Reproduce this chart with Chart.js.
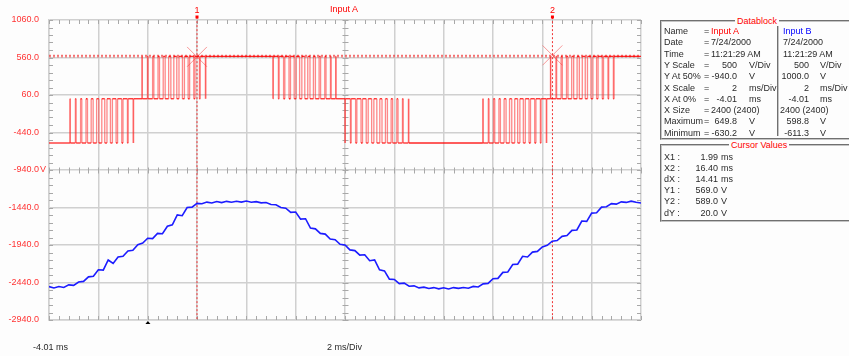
<!DOCTYPE html>
<html>
<head>
<meta charset="utf-8">
<script src="https://cdn.jsdelivr.net/npm/chart.js@4.4.0/dist/chart.umd.min.js"></script>
<style>
  body { margin: 0; background: #fff; }
  #wrap { position: relative; width: 849px; height: 356px; overflow: hidden; background: #fdfdfd;
          font-family: "Liberation Sans", Arial, sans-serif; font-size: 9px; color: #2a2a2a; }
  #scope { position: absolute; left: 0; top: 0; }
  .t { position: absolute; white-space: nowrap; line-height: 10px; }
  .box { position: absolute; border: 2px groove #c4c4c4; }
  .cap { position: absolute; background: #fdfdfd; color: #f00; padding: 0 2px; line-height: 10px; white-space: nowrap; }
</style>
</head>
<body>
<div id="wrap">
  <canvas id="scope" width="849" height="356"></canvas>
  <span class="t" style="left:330px; top:4px; color:#f00;">Input A</span>
  <span class="t" style="left:33px; top:342px;">-4.01 ms</span>
  <span class="t" style="left:327px; top:342px;">2 ms/Div</span>
  <div class="box" style="left:660px; top:20px; width:220px; height:116px;"></div>
  <div class="box" style="left:777px; top:20px; width:0; height:116px; border-width:0 0 0 2px;"></div>
  <span class="cap" style="left:735px; top:16px;">Datablock</span>
  <div class="box" style="left:660px; top:144px; width:220px; height:74px;"></div>
  <span class="cap" style="left:729px; top:140px;">Cursor Values</span>
</div>
<script>
// screen divisions: 2 ms/Div, 500 V/Div
var xTicks = [-4.01, -2.01, -0.01, 1.99, 3.99, 5.99, 7.99, 9.99, 11.99, 13.99, 15.99, 17.99, 19.99];
var yTicks = [1060, 560, 60, -440, -940, -1440, -1940, -2440, -2940];
var yLabels = ['1060.0', '560.0', '60.0', '-440.0', '-940.0', '-1440.0', '-1940.0', '-2440.0', '-2940.0'];

// Input A: three level output (V), times (ms) where it switches
var HI = 575, MID = 10, LO = -580;
var pwm1 = [-3.16, -3.15, -2.94, -2.91, -2.73, -2.68, -2.51, -2.45, -2.30, -2.22, -2.08, -1.99, -1.87, -1.75, -1.66, -1.52, -1.44, -1.29, -1.23, -1.06, -1.01, -0.83, -0.80, -0.60, -0.58];
var pwm2 = [-0.24, -0.23, -0.02, 0.01, 0.19, 0.24, 0.41, 0.47, 0.62, 0.70, 0.84, 0.93, 1.05, 1.17, 1.26, 1.40, 1.48, 1.63, 1.69, 1.86, 1.91, 2.09, 2.12, 2.33, 2.35];
var pwm3 = [5.07, 5.08, 5.29, 5.32, 5.50, 5.55, 5.72, 5.78, 5.93, 6.01, 6.15, 6.24, 6.36, 6.48, 6.57, 6.71, 6.79, 6.94, 7.00, 7.17, 7.22, 7.40, 7.43, 7.61, 7.63];
var pwm4 = [7.99, 8.00, 8.21, 8.24, 8.42, 8.47, 8.64, 8.70, 8.85, 8.93, 9.07, 9.16, 9.28, 9.40, 9.49, 9.63, 9.71, 9.86, 9.92, 10.09, 10.14, 10.32, 10.35, 10.56, 10.58];
var pwm5 = [13.58, 13.59, 13.80, 13.83, 14.01, 14.06, 14.23, 14.29, 14.44, 14.52, 14.66, 14.75, 14.87, 14.99, 15.08, 15.22, 15.30, 15.45, 15.51, 15.68, 15.73, 15.91, 15.94, 16.15, 16.17];
var pwm6 = [16.32, 16.33, 16.54, 16.57, 16.75, 16.80, 16.97, 17.03, 17.18, 17.26, 17.40, 17.49, 17.61, 17.73, 17.82, 17.96, 18.04, 18.19, 18.25, 18.42, 18.47, 18.65, 18.68, 18.87, 18.90];

// Input B (V), one reading every 0.2 ms from -4.01 ms
var inputB = [
  -555, -572, -553, -566, -532, -538, -494, -485, -425, -418,
  -330, -335, -200, -245, -160, -150, -80, -70, 5, 25,
  90, 85, 155, 150, 250, 270, 400, 390, 500, 505,
  555, 550, 572, 560, 580, 565, 582, 570, 583, 572,
  586, 570, 578, 562, 566, 540, 536, 500, 490, 435,
  440, 345, 350, 225, 215, 155, 145, 80, 70, 10,
  0, -65, -75, -135, -130, -210, -200, -330, -345, -455,
  -460, -515, -508, -550, -545, -572, -562, -580, -568, -585,
  -570, -586, -568, -578, -566, -576, -552, -560, -518, -512,
  -450, -445, -365, -360, -260, -255, -150, -160, -95, -85,
  -25, -5, 50, 60, 115, 125, 195, 200, 320, 315,
  425, 430, 505, 510, 552, 545, 575, 568, 585, 570, 560
];
var bStart = -4.01, bStep = 0.2;

// cursors
var cursorX = [1.99, 16.40];
var cursorY = [569.0, 589.0];
var trigger = 0;

var blockRows = [
  ['Name', 'Input A', null, 'Input B', null],
  ['Date', '7/24/2000', null, '7/24/2000', null],
  ['Time', '11:21:29 AM', null, '11:21:29 AM', null],
  ['Y Scale', '500', 'V/Div', '500', 'V/Div'],
  ['Y At 50%', '-940.0', 'V', '1000.0', 'V'],
  ['X Scale', '2', 'ms/Div', '2', 'ms/Div'],
  ['X At 0%', '-4.01', 'ms', '-4.01', 'ms'],
  ['X Size', '2400 (2400)', null, '2400 (2400)', null],
  ['Maximum', '649.8', 'V', '598.8', 'V'],
  ['Minimum', '-630.2', 'V', '-611.3', 'V']
];
var cursorRows = [['X1', '1.99', 'ms'], ['X2', '16.40', 'ms'], ['dX', '14.41', 'ms'],
                  ['Y1', '569.0', 'V'], ['Y2', '589.0', 'V'], ['dY', '20.0', 'V']];

// text panel on the right
var wrap = document.getElementById('wrap');
function put(txt, x, y, color, right) {
  var s = document.createElement('span');
  s.className = 't';
  s.textContent = txt;
  s.style.top = (y - 5) + 'px';
  if (right) s.style.right = (849 - x) + 'px'; else s.style.left = x + 'px';
  if (color) s.style.color = color;
  wrap.appendChild(s);
}
blockRows.forEach(function(r, i) {
  var y = 31 + i * 11.3;
  put(r[0], 664, y);
  put('=', 704, y);
  if (r[2] === null) {
    put(r[1], 711, y, i == 0 ? '#f00' : null);
    put(r[3], i == 7 ? 780 : 783, y, i == 0 ? '#00f' : null);
  } else {
    put(r[1], 737, y, null, true);
    put(r[2], 749, y);
    put(r[3], 809, y, null, true);
    put(r[4], 820, y);
  }
});
cursorRows.forEach(function(r, i) {
  var y = 157 + i * 11.1;
  put(r[0] + ' :', 664, y);
  put(r[1], 718, y, null, true);
  put(r[2], 721, y);
});

// build traces
var redPts = [{x: -4.01, y: LO}];
var lvl = LO;
[[pwm1, LO, MID], [pwm2, MID, HI], [pwm3, HI, MID], [pwm4, MID, LO], [pwm5, LO, MID], [pwm6, MID, HI]].forEach(function(r) {
  r[0].forEach(function(t) {
    redPts.push({x: t, y: lvl});
    lvl = (lvl == r[1]) ? r[2] : r[1];
    redPts.push({x: t, y: lvl});
  });
});
redPts.push({x: 19.99, y: lvl});

var bluePts = inputB.map(function(v, i) { return {x: bStart + i * bStep, y: v}; });

var gridColor = '#d0d0d0';
var scopeMarks = {
  id: 'scopeMarks',
  beforeDatasetsDraw: function(chart) {
    var ctx = chart.ctx, a = chart.chartArea, x = chart.scales.x, y = chart.scales.y;
    var xc = Math.round(x.getPixelForValue(7.99)) + 0.5, yc = Math.round(y.getPixelForValue(-940)) + 0.5;
    ctx.save();
    ctx.strokeStyle = '#a8a8a8';
    ctx.lineWidth = 1;
    ctx.beginPath();
    for (var t = -4.01; t <= 19.995; t += 0.4) {
      var px = Math.round(x.getPixelForValue(t)) + 0.5;
      ctx.moveTo(px, a.top); ctx.lineTo(px, a.top + 4);
      ctx.moveTo(px, a.bottom); ctx.lineTo(px, a.bottom - 4);
      ctx.moveTo(px, yc - 3); ctx.lineTo(px, yc + 3);
    }
    for (var v = -2940; v <= 1060; v += 100) {
      var py = Math.round(y.getPixelForValue(v)) + 0.5;
      ctx.moveTo(a.left, py); ctx.lineTo(a.left + 4, py);
      ctx.moveTo(a.right, py); ctx.lineTo(a.right - 4, py);
      ctx.moveTo(xc - 3, py); ctx.lineTo(xc + 3, py);
    }
    ctx.stroke();
    ctx.restore();
  },
  afterDraw: function(chart) {
    var ctx = chart.ctx, a = chart.chartArea, x = chart.scales.x, y = chart.scales.y;
    ctx.save();
    ctx.font = '9px "Liberation Sans", Arial, sans-serif';
    ctx.fillStyle = '#f00';
    ctx.textAlign = 'center';
    ctx.textBaseline = 'middle';
    cursorX.forEach(function(c, i) {
      var px = x.getPixelForValue(c);
      ctx.fillText(String(i + 1), px, 11);
      ctx.fillRect(px - 1.5, 15.5, 3, 3);
    });
    ctx.textAlign = 'left';
    ctx.fillStyle = '#ff3333';
    ctx.fillText('V', 40, y.getPixelForValue(-940));
    ctx.fillStyle = '#000';
    var tx = x.getPixelForValue(trigger);
    ctx.beginPath();
    ctx.moveTo(tx, a.bottom + 1);
    ctx.lineTo(tx - 2.5, a.bottom + 4);
    ctx.lineTo(tx + 2.5, a.bottom + 4);
    ctx.closePath();
    ctx.fill();
    ctx.restore();
  }
};

var cursorSets = [];
cursorX.forEach(function(c) {
  cursorSets.push({ data: [{x: c, y: 1098}, {x: c, y: -2940}], yAxisID: 'y', borderColor: '#f03030',
    borderWidth: 1, borderDash: [2, 2], pointRadius: 0, clip: false });
});
cursorY.forEach(function(c) {
  cursorSets.push({ data: [{x: -4.01, y: c}, {x: 19.99, y: c}], yAxisID: 'y', borderColor: 'rgba(240,40,40,0.8)',
    borderWidth: 1, borderDash: [2, 2], pointRadius: 0 });
});
cursorSets.push({ data: cursorX.map(function(c, i) { return {x: c, y: cursorY[i]}; }), yAxisID: 'y',
  showLine: false, pointStyle: 'crossRot', pointRadius: 14, pointBorderColor: 'rgba(245,110,110,0.7)',
  pointBorderWidth: 1, pointBackgroundColor: 'transparent', clip: false });

var ctx = document.getElementById('scope').getContext('2d');
new Chart(ctx, {
  type: 'line',
  data: {
    datasets: [
      { label: 'Input A', data: redPts, yAxisID: 'y', borderColor: 'rgba(255,0,0,0.85)',
        borderWidth: 1.3, pointRadius: 0, tension: 0,
        // switching edges look paler than the flat levels on the capture
        segment: { borderColor: function(c) { return c.p0.parsed.x === c.p1.parsed.x ? 'rgba(255,40,40,0.55)' : undefined; } } },
      { label: 'Input B', data: bluePts, yAxisID: 'yB', borderColor: '#1c1cff',
        borderWidth: 1.6, pointRadius: 0, tension: 0 }
    ].concat(cursorSets)
  },
  options: {
    responsive: false,
    animation: false,
    devicePixelRatio: 1,
    layout: { padding: { left: 0, right: 208, top: 20, bottom: 36 } },
    plugins: { legend: { display: false }, tooltip: { enabled: false } },
    scales: {
      x: {
        type: 'linear', min: -4.01, max: 19.99,
        afterBuildTicks: function(s) { s.ticks = xTicks.map(function(v) { return {value: v}; }); },
        afterFit: function(s) { s.height = 0; },
        ticks: { display: false },
        grid: { color: gridColor, lineWidth: 1.5, drawTicks: false },
        border: { color: gridColor, width: 1.5 }
      },
      y: {
        min: -2940, max: 1060,
        afterBuildTicks: function(s) { s.ticks = yTicks.map(function(v) { return {value: v}; }); },
        afterFit: function(s) { s.width = 49; },
        ticks: {
          color: '#ff3333', padding: 10,
          font: { size: 9, family: '"Liberation Sans", Arial, sans-serif' },
          callback: function(v, i) { return yLabels[i]; }
        },
        grid: { color: gridColor, lineWidth: 1.5, drawTicks: false },
        border: { color: gridColor, width: 1.5 }
      },
      yB: { display: false, min: -1000, max: 3000 }
    }
  },
  plugins: [scopeMarks]
});
</script>
</body>
</html>
